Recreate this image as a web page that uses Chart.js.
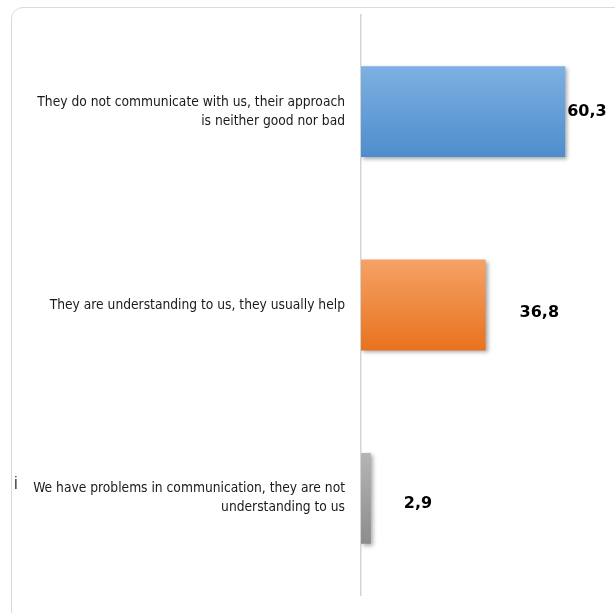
<!DOCTYPE html>
<html>
<head>
<meta charset="utf-8">
<script src="https://cdn.jsdelivr.net/npm/chart.js@4"></script>
<style>
  html, body { margin: 0; padding: 0; background: #fff; overflow: hidden; }
  #wrap { position: relative; width: 615px; height: 613px; overflow: hidden; }
  #frame {
    position: absolute; left: 11px; top: 7px; width: 700px; height: 700px;
    border: 1.5px solid #dadada; border-radius: 12px; box-sizing: border-box;
  }
  #c { position: absolute; left: 0; top: 0; }
</style>
</head>
<body>
<div id="wrap">
  <div id="frame"></div>
  <canvas id="c" width="615" height="613"></canvas>
</div>
<script>
// --- данные ---
const categories = [
  ["They do not communicate with us, their approach", "is neither good nor bad"],
  ["They are understanding to us, they usually help"],
  ["We have problems in communication, they are not", "understanding to us"],
];
const values = [60.3, 36.8, 2.9];
const valueLabels = ["60,3", "36,8", "2,9"];

// градиенты столбцов (верх -> низ)
const barColors = [
  ["#7eb0e2", "#4e8dcd"],
  ["#f5a266", "#e8721e"],
  ["#b5b5b5", "#8c8c8c"],
];

// смещения подписей значений относительно конца столбца
const labelDx = [2, 34, 33];
const labelDy = [0, 8, 6];

const BAR_PCT = 0.47;

function barGradient(c) {
  const chart = c.chart;
  const i = c.dataIndex;
  if (!chart.chartArea) return barColors[i][1];
  const y = chart.scales.y;
  const cy = y.getPixelForValue(i);
  const h = (y.height / categories.length) * BAR_PCT / 2;
  const g = chart.ctx.createLinearGradient(0, cy - h, 0, cy + h);
  g.addColorStop(0, barColors[i][0]);
  g.addColorStop(1, barColors[i][1]);
  return g;
}

// тень под столбцами
const shadowPlugin = {
  id: "barShadow",
  beforeDatasetsDraw(chart) {
    const ctx = chart.ctx;
    ctx.save();
    ctx.shadowColor = "rgba(0,0,0,0.35)";
    ctx.shadowBlur = 4;
    ctx.shadowOffsetX = 2;
    ctx.shadowOffsetY = 2;
  },
  afterDatasetsDraw(chart) {
    chart.ctx.restore();
  },
};

// подписи значений и маленький символ слева
const labelsPlugin = {
  id: "valueLabels",
  afterDraw(chart) {
    const ctx = chart.ctx;
    const meta = chart.getDatasetMeta(0);
    ctx.save();
    ctx.font = "bold 16px 'DejaVu Sans'";
    ctx.fillStyle = "#000";
    ctx.textAlign = "left";
    ctx.textBaseline = "middle";
    meta.data.forEach((bar, i) => {
      ctx.fillText(valueLabels[i], bar.x + labelDx[i], bar.y + labelDy[i]);
    });
    ctx.font = "14px 'DejaVu Sans Condensed'";
    ctx.fillStyle = "#222";
    const y3 = meta.data[2].y;
    ctx.fillText("İ", 14, y3 - 13);
    ctx.restore();
  },
};

new Chart(document.getElementById("c"), {
  type: "bar",
  data: {
    labels: categories,
    datasets: [
      {
        data: values,
        backgroundColor: barGradient,
        borderWidth: 0,
        categoryPercentage: 1,
        barPercentage: BAR_PCT,
      },
    ],
  },
  options: {
    indexAxis: "y",
    responsive: false,
    animation: false,
    events: [],
    layout: { padding: { top: 15, right: 17, bottom: 18, left: 0 } },
    plugins: { legend: { display: false }, tooltip: { enabled: false } },
    scales: {
      x: { display: false, min: 0, max: 70 },
      y: {
        afterFit(scale) {
          scale.width = 361;
          scale.paddingTop = 0;
          scale.paddingBottom = 0;
        },
        grid: { display: false, drawTicks: false },
        border: { display: true, color: "#d4d4d4", width: 1.5 },
        ticks: {
          padding: 16,
          color: "#1a1a1a",
          font: { family: "'DejaVu Sans Condensed'", size: 13.7, lineHeight: 1.38 },
        },
      },
    },
  },
  plugins: [shadowPlugin, labelsPlugin],
});
</script>
</body>
</html>
